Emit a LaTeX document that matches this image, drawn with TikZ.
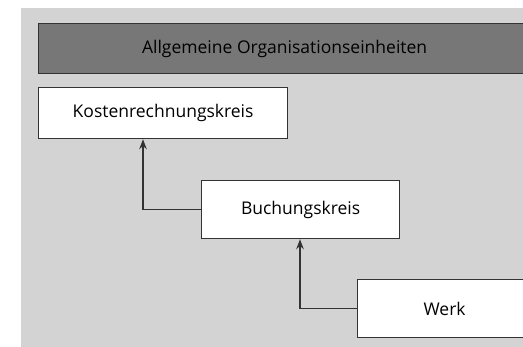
\documentclass[tikz,border=0pt]{standalone}
\usepackage{fontspec}
\setmainfont{Open Sans}
\usetikzlibrary{shapes,arrows,arrows.meta,positioning}

\definecolor{bggrey}{HTML}{D3D3D3}
\definecolor{bargrey}{HTML}{777777}
\definecolor{linegrey}{HTML}{333333}

\begin{document}
\begin{tikzpicture}[
    x=1pt, y=-1pt,
    box/.style={draw=linegrey, fill=white, rectangle, line width=1.2pt, inner sep=0pt, font=\fontsize{17.5}{20}\selectfont},
    arrow/.style={-{Stealth[length=10pt,width=7.5pt]}, line width=1.3pt, draw=linegrey}
]
\useasboundingbox (0,0) rectangle (523,346);
\clip (0,0) rectangle (523,346);

% Grey area
\fill[bggrey] (21,8) rectangle (540,360);

% Header bar
\node[box, fill=bargrey, anchor=north west, minimum width=492pt, minimum height=50pt] (header) at (38,23) {Allgemeine Organisationseinheiten};

% Unit boxes
\node[box, anchor=north west, minimum width=249pt, minimum height=51pt] (kosten) at (38,87) {Kostenrechnungskreis};
\node[box, anchor=north west, minimum width=198pt, minimum height=58pt] (buch) at (201,180) {Buchungskreis};
\node[box, anchor=north west, minimum width=174pt, minimum height=58pt] (werk) at (357,279) {Werk};

% Arrows
\draw[arrow] (buch.west) -| ([xshift=105pt]kosten.south west);
\draw[arrow] (werk.west) -| ([xshift=99pt]buch.south west);

\end{tikzpicture}
\end{document}
